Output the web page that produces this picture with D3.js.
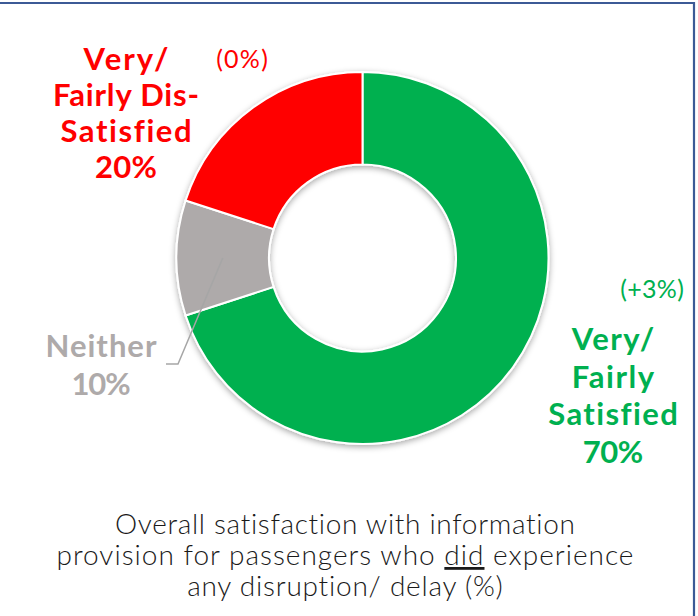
<!DOCTYPE html>
<html><head><meta charset="utf-8">
<script src="https://cdn.jsdelivr.net/npm/d3@7"></script>
<style>html,body{margin:0;padding:0;background:#fff;}svg{display:block;}</style>
</head><body>
<svg id="chart" width="698" height="616"></svg>
<script>
const categories = ["Very/ Fairly Satisfied", "Neither", "Very/ Fairly Dis-Satisfied"];
const values = [70, 10, 20];
const changes = ["(+3%)", null, "(0%)"];
const colors = ["#00B050", "#AEAAAA", "#FF0000"];
const labelLines = [["Very/", "Fairly", "Satisfied", "70%"], ["Neither", "10%"], ["Very/", "Fairly Dis-", "Satisfied", "20%"]];
const titleLines = [["Overall satisfaction with information"], ["provision for passengers who ", "did", " experience"], ["any disruption/ delay (%)"]];

const svg = d3.select("#chart");
const W = 698, H = 616;
const cx = 362.5, cy = 258, rOuter = 186, rInner = 93.5;

// frame
svg.append("path").attr("d", `M0,3 L694,3 L694,${H}`).attr("fill", "none").attr("stroke", "#3C5A96").attr("stroke-width", 2.2);

const defs = svg.append("defs");
const f = defs.append("filter").attr("id", "sh").attr("x", "-20%").attr("y", "-20%").attr("width", "140%").attr("height", "140%");
f.append("feDropShadow").attr("dx", 0).attr("dy", 2).attr("stdDeviation", 3).attr("flood-color", "#000").attr("flood-opacity", 0.35);

const pie = d3.pie().sort(null).value(d => d)(values);
const arc = d3.arc().innerRadius(rInner).outerRadius(rOuter);
const g = svg.append("g").attr("transform", `translate(${cx},${cy})`);
g.append("g").attr("filter", "url(#sh)").selectAll("path").data(pie).join("path")
  .attr("d", arc).attr("fill", (d, i) => colors[i]).attr("stroke", "#fff").attr("stroke-width", 2);

// leader line for Neither
const c = arc.centroid(pie[1]);
svg.append("polyline").attr("points", `${cx + c[0]},${cy + c[1]} 178,364 166,364`)
  .attr("fill", "none").attr("stroke", "#A6A6A6").attr("stroke-width", 1.5);

const fontB = "Lato, 'Open Sans', sans-serif";

// fit a text element to a target width via letter-spacing
function fit(t, x, target) {
  const w = t.node().getComputedTextLength();
  const n = t.text().length;
  const ls = (target - w) / n;
  t.attr("letter-spacing", ls).attr("x", x + ls / 2);
  t.selectAll("tspan").attr("letter-spacing", ls);
}

function block(lines, x, y0, dy, color, size, widths) {
  lines.forEach((l, i) => {
    const t = svg.append("text").attr("text-anchor", "middle").attr("fill", color)
      .attr("x", x).attr("y", y0 + i * dy)
      .style("font-family", fontB).style("font-weight", 700).style("font-size", size + "px").text(l);
    fit(t, x, widths[i]);
  });
}
block(labelLines[2], 126, 70, 36, colors[2], 31, [87, 147, 133, 62]);
block(labelLines[0], 613, 350, 37.5, colors[0], 31, [84, 84, 131, 60]);
block(labelLines[1], 101, 357, 38, colors[1], 31, [112, 58]);

const c0 = svg.append("text").attr("x", 242).attr("y", 68).attr("text-anchor", "middle").attr("fill", colors[2])
  .style("font-family", fontB).style("font-weight", 400).style("font-size", "25px").text(changes[2]);
fit(c0, 242, 53);
const c1 = svg.append("text").attr("x", 652).attr("y", 298).attr("text-anchor", "middle").attr("fill", colors[0])
  .style("font-family", fontB).style("font-weight", 400).style("font-size", "25px").text(changes[0]);
fit(c1, 652, 64);

const titleW = [462, 578, 317];
titleLines.forEach((parts, i) => {
  const t = svg.append("text").attr("text-anchor", "middle").attr("fill", "#1a1a1a")
    .attr("x", 345).attr("y", 534 + i * 31)
    .style("font-family", fontB).style("font-weight", 300).style("font-size", "28px");
  parts.forEach(p => {
    const s = t.append("tspan").text(p);
    if (p === "did") s.attr("text-decoration", "underline");
  });
  fit(t, 345, titleW[i]);
});
</script>
</body></html>
